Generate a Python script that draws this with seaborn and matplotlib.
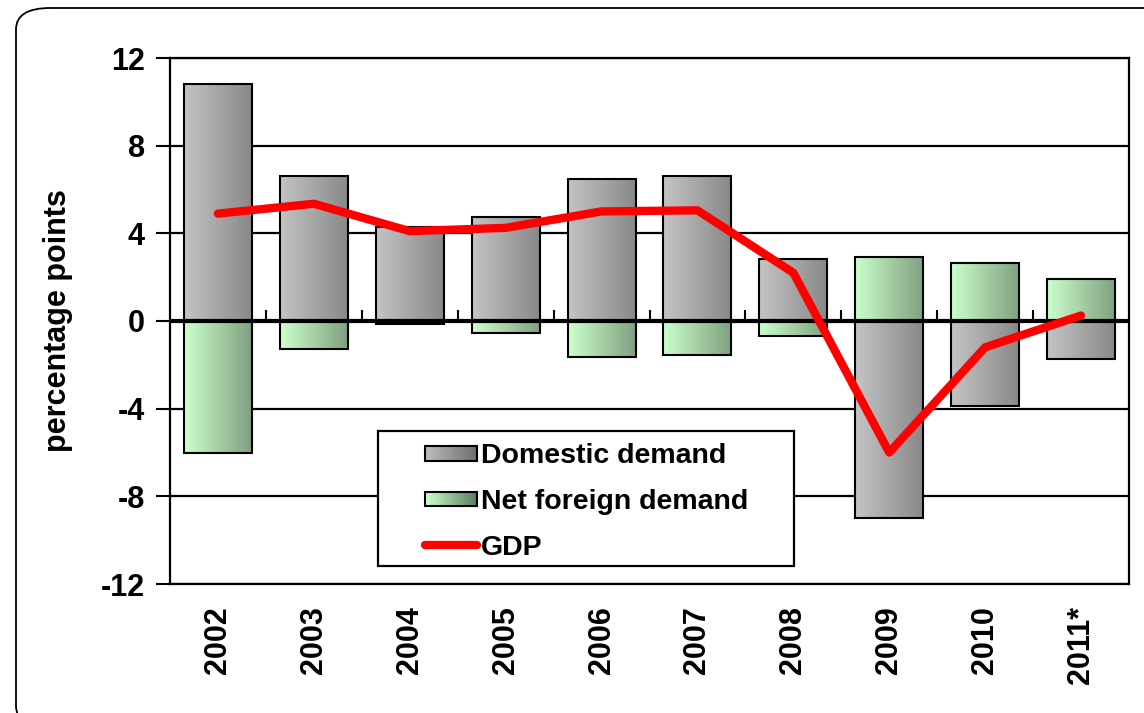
import matplotlib
matplotlib.use('Agg')
import matplotlib.pyplot as plt
import numpy as np
import pandas as pd
import seaborn as sns
from matplotlib.colors import LinearSegmentedColormap
from matplotlib.legend_handler import HandlerBase
from matplotlib.lines import Line2D
from matplotlib.patches import Rectangle, FancyBboxPatch, Patch

# data
years = ['2002', '2003', '2004', '2005', '2006', '2007', '2008', '2009', '2010', '2011*']
domestic = [10.8, 6.6, 4.3, 4.75, 6.5, 6.6, 2.85, -9.0, -3.9, -1.75]
net_foreign = [-6.0, -1.3, -0.15, -0.55, -1.65, -1.55, -0.7, 2.9, 2.65, 1.9]
gdp = [4.9, 5.35, 4.1, 4.25, 5.0, 5.05, 2.2, -6.0, -1.2, 0.25]

labels = ['Domestic demand', 'Net foreign demand', 'GDP']

gray_cmap = LinearSegmentedColormap.from_list('g', ['#C4C4C4', '#888888'])
green_cmap = LinearSegmentedColormap.from_list('gr', ['#CCFFCC', '#7F9F7F'])

df = pd.DataFrame({
    'year': years * 2,
    'component': [labels[0]] * len(years) + [labels[1]] * len(years),
    'value': domestic + net_foreign,
})

sns.set_style('white')
plt.rcParams['font.family'] = ['Liberation Sans', 'DejaVu Sans']
plt.rcParams['font.weight'] = 'bold'
plt.rcParams['axes.unicode_minus'] = False
for k in ['text.color', 'axes.labelcolor', 'xtick.color', 'ytick.color']:
    plt.rcParams[k] = 'black'

fig = plt.figure(figsize=(11.44, 7.13), dpi=100)
ax = fig.add_axes([170 / 1144, 1 - 584 / 713, 959 / 1144, 526 / 713])

# outer rounded frame
frame = FancyBboxPatch((16 / 1144, -0.02), 1.2, 1 - 8 / 713 + 0.02,
                       boxstyle='round,pad=0,rounding_size=0.03',
                       transform=fig.transFigure, facecolor='white',
                       edgecolor='black', lw=1.3, zorder=-10)
fig.patches.append(frame)

sns.barplot(data=df, x='year', y='value', hue='component', dodge=False,
            palette=['#A8A8A8', '#A8D8A8'], width=0.71, legend=False,
            edgecolor='black', linewidth=1.5, ax=ax, zorder=3)

ax.set_ylim(-12, 12)
ax.set_xlim(-0.5, len(years) - 0.5)

# gradient fill for each bar
grad = np.linspace(0, 1, 256).reshape(1, -1)
n = len(years)
for i, p in enumerate(ax.patches):
    cmap = gray_cmap if i < n else green_cmap
    x0, y0 = p.get_x(), p.get_y()
    w, h = p.get_width(), p.get_height()
    if h == 0:
        continue
    im = ax.imshow(grad, cmap=cmap, aspect='auto', zorder=3.5,
                   extent=[x0, x0 + w, min(y0, y0 + h), max(y0, y0 + h)])
    im.set_clip_path(p)
    p.set_facecolor('none')
    p.set_zorder(4)

ax.set_ylim(-12, 12)
ax.set_xlim(-0.5, len(years) - 0.5)

sns.lineplot(x=years, y=gdp, color='#FF0000', lw=6, sort=False, ax=ax,
             zorder=6, solid_capstyle='round')

ax.set_yticks([-12, -8, -4, 0, 4, 8, 12])
ax.yaxis.grid(True, color='black', lw=1.6, zorder=0)
ax.set_axisbelow(True)
ax.axhline(0, color='black', lw=3, zorder=5)
for s in ax.spines.values():
    s.set_color('black')
    s.set_linewidth(1.6)
    s.set_visible(True)

ax.tick_params(axis='y', labelsize=22, length=10, width=1.5, color='black',
               left=True, direction='out', pad=8)
ax.tick_params(axis='x', labelsize=22, length=0, pad=16, rotation=90)
for t in ax.get_xticklabels() + ax.get_yticklabels():
    t.set_fontweight('bold')
ax.set_xlabel('')
ax.set_ylabel('percentage points', fontsize=22, fontweight='bold', labelpad=20)

# category separators on the zero line
sec = ax.secondary_xaxis(0.5)
sec.set_xticks(np.arange(len(years) - 1) + 0.5)
sec.set_xticklabels([])
sec.tick_params(length=8, width=1.5, direction='out', color='black')
sec.spines['bottom'].set_visible(False)


class GradientHandler(HandlerBase):
    def __init__(self, cmap):
        super().__init__()
        self.cmap = cmap

    def create_artists(self, legend, orig_handle, xdescent, ydescent,
                       width, height, fontsize, trans):
        arts = []
        k = 24
        hh = height * 0.75
        yb = -ydescent + (height - hh) / 2
        for j in range(k):
            arts.append(Rectangle((-xdescent + j * width / k, yb), width / k + 0.3, hh,
                                  facecolor=self.cmap(j / (k - 1)), edgecolor='none',
                                  transform=trans))
        arts.append(Rectangle((-xdescent, yb), width, hh, fill=False,
                              edgecolor='black', lw=1.5, transform=trans))
        return arts


legend_gray = LinearSegmentedColormap.from_list('lg', ['#BDBDBD', '#6E6E6E'])
legend_green = LinearSegmentedColormap.from_list('lgr', ['#CCFFCC', '#5E7E5E'])
h_dom = Patch(label=labels[0])
h_net = Patch(label=labels[1])
h_gdp = Line2D([], [], color='#FF0000', lw=6, solid_capstyle='round', label=labels[2])

# legend box
box = Rectangle((0.217, 0.034), 0.434, 0.257, transform=ax.transAxes,
                facecolor='white', edgecolor='black', lw=1.6, zorder=7)
ax.add_patch(box)
leg = ax.legend(handles=[h_dom, h_net, h_gdp], loc='center',
                bbox_to_anchor=(0.434, 0.156), frameon=False,
                prop={'size': 20.5, 'weight': 'bold'}, handlelength=1.85,
                handletextpad=0.12, labelspacing=0.7,
                handler_map={h_dom: GradientHandler(legend_gray),
                             h_net: GradientHandler(legend_green)})
leg.set_zorder(8)

fig.savefig('out.png', dpi=100)
